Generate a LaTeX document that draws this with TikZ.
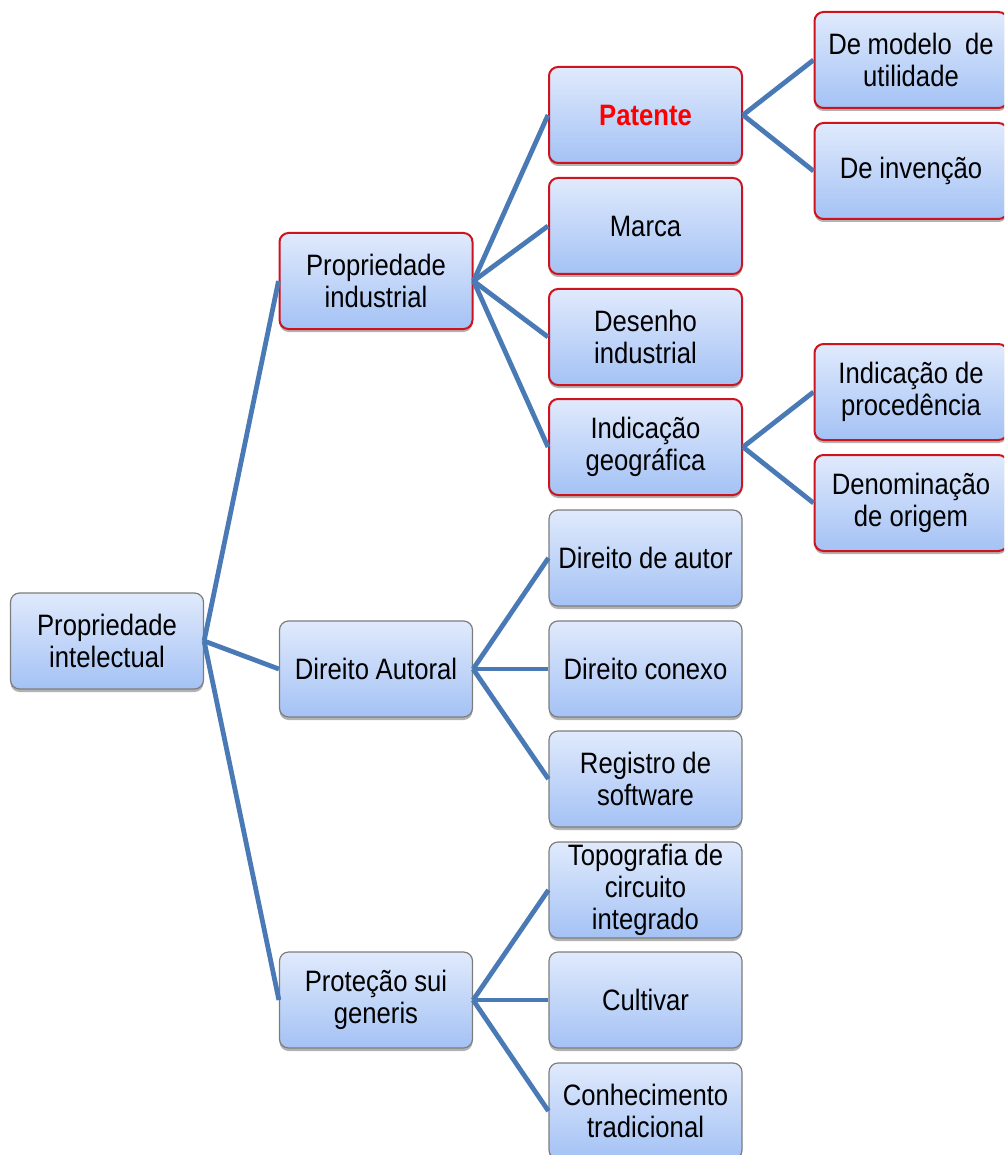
\documentclass[tikz,border=0pt]{standalone}
\usepackage{fontspec}
\setmainfont{Liberation Sans}[FakeStretch=0.87]
\usetikzlibrary{positioning,shadows}
\definecolor{linkblue}{RGB}{74,122,181}
\definecolor{boxtop}{RGB}{224,234,252}
\definecolor{boxbot}{RGB}{164,194,245}
\definecolor{redline}{RGB}{205,20,30}
\definecolor{greyline}{RGB}{125,125,125}

\begin{document}
\begin{tikzpicture}[x=1pt,y=-1pt,
    box/.style={rectangle, rounded corners=9pt, minimum width=193pt, minimum height=96pt,
      inner sep=4pt, text width=185pt, align=center, top color=boxtop, bottom color=boxbot,
      draw=greyline, line width=1.2pt,
      drop shadow={shadow xshift=0pt, shadow yshift=-3pt, opacity=0.3, fill=black},
      font=\fontsize{29.5}{32}\selectfont,
      execute at begin node={\spaceskip=6.5pt plus 1pt minus 1pt\relax}},
    redbox/.style={box, draw=redline, line width=2pt},
    link/.style={draw=linkblue, line width=4.8pt}]
  \useasboundingbox (0,0) rectangle (1004,1155);
  \clip (0,0) rectangle (1004,1155);

  % root
  \node[box] (pint) at (107,641) {Propriedade\\intelectual};

  % first level
  \node[redbox] (pind) at (376,281) {Propriedade\\industrial};
  \node[box] (dauto) at (376,669) {Direito Autoral};
  \node[box] (psg) at (376,1000) {Proteção sui\\generis};

  % second level
  \node[redbox, text=red, font=\fontsize{29.5}{32}\selectfont\bfseries] (pat) at (645.5,115) {Patente};
  \node[redbox] (marca) at (645.5,226) {Marca};
  \node[redbox] (desenho) at (645.5,337) {Desenho\\industrial};
  \node[redbox] (igeo) at (645.5,447) {Indicação\\geográfica};
  \node[box] (dautor) at (645.5,558) {Direito de autor};
  \node[box] (dconexo) at (645.5,669) {Direito conexo};
  \node[box] (regsoft) at (645.5,779) {Registro de\\software};
  \node[box, inner ysep=1pt] (topo) at (645.5,890) {Topografia de\\circuito\\integrado};
  \node[box] (cultivar) at (645.5,1000) {Cultivar};
  \node[box] (conhec) at (645.5,1111) {Conhecimento\\tradicional};

  % third level
  \node[redbox] (dmodelo) at (911,60) {De modelo \ de\\utilidade};
  \node[redbox] (dinvencao) at (911,171) {De invenção};
  \node[redbox] (iproced) at (911,392) {Indicação de\\procedência};
  \node[redbox] (dorigem) at (911,503) {Denominação\\de origem};

  % connectors
  \foreach \child in {pind,dauto,psg}
    \draw[link] (pint.east) -- (\child.west);
  \foreach \child in {pat,marca,desenho,igeo}
    \draw[link] (pind.east) -- (\child.west);
  \foreach \child in {dautor,dconexo,regsoft}
    \draw[link] (dauto.east) -- (\child.west);
  \foreach \child in {topo,cultivar,conhec}
    \draw[link] (psg.east) -- (\child.west);
  \foreach \child in {dmodelo,dinvencao}
    \draw[link] (pat.east) -- (\child.west);
  \foreach \child in {iproced,dorigem}
    \draw[link] (igeo.east) -- (\child.west);
\end{tikzpicture}
\end{document}
